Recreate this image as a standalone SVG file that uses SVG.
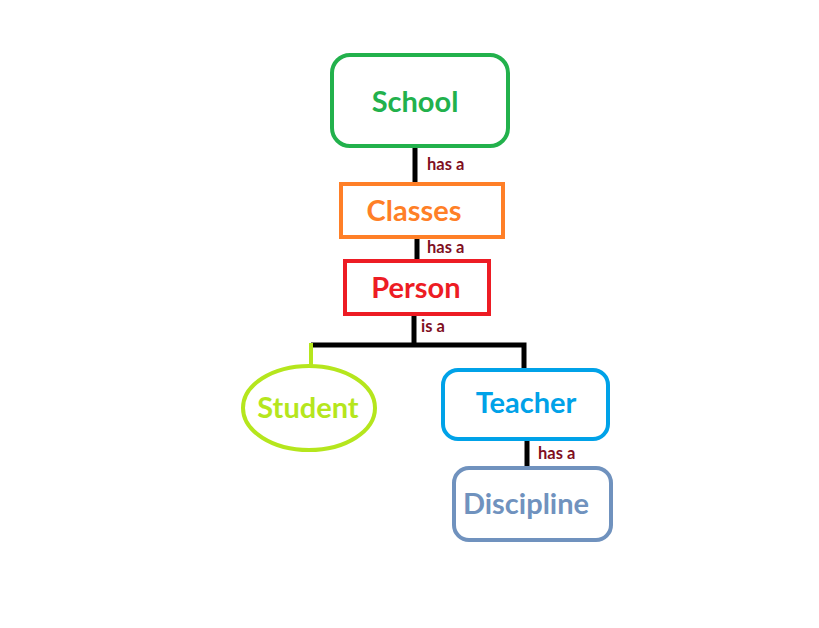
<svg xmlns="http://www.w3.org/2000/svg" width="819" height="628" viewBox="0 0 819 628">
<style>
.box{fill:#fff;stroke-width:4}
.t{font-family:Lato,"Open Sans","Liberation Sans",sans-serif;font-weight:bold;font-size:29px;text-anchor:middle}
.lbl{font-family:Lato,"Open Sans","Liberation Sans",sans-serif;font-weight:bold;font-size:16.5px;fill:#7f0f1f}
.c{stroke:#000;stroke-width:5;fill:none}
</style>
<rect width="819" height="628" fill="#fff"/>
<g id="connectors">
<line class="c" x1="415" y1="146" x2="415" y2="184"/>
<line class="c" x1="417" y1="237" x2="417" y2="261"/>
<line class="c" x1="414" y1="314" x2="414" y2="343"/>
<polyline class="c" points="311,345 524,345 524,369"/>
<line x1="311" y1="343" x2="311" y2="366" stroke="#b5e61d" stroke-width="4"/>
<line class="c" x1="527" y1="439" x2="527" y2="467"/>
<text class="lbl" x="427" y="170">has a</text>
<text class="lbl" x="427" y="253">has a</text>
<text class="lbl" x="421" y="332">is a</text>
<text class="lbl" x="538" y="459">has a</text>
</g>
<g id="school">
<rect class="box" x="332" y="55" width="176" height="91" rx="18" stroke="#22b14c"/>
<text class="t" x="415" y="112" fill="#22b14c">School</text>
</g>
<g id="classes">
<rect class="box" x="341" y="184" width="162" height="53" stroke="#ff7f27"/>
<text class="t" x="414" y="221" fill="#ff7f27">Classes</text>
</g>
<g id="person">
<rect class="box" x="345" y="261" width="144" height="53" stroke="#ed1c24"/>
<text class="t" x="416" y="298" fill="#ed1c24">Person</text>
</g>
<g id="student">
<ellipse class="box" cx="309" cy="408" rx="66" ry="42" stroke="#b5e61d"/>
<text class="t" x="308" y="418" fill="#b5e61d">Student</text>
</g>
<g id="teacher">
<rect class="box" x="443" y="370" width="165" height="69" rx="15" stroke="#00a2e8"/>
<text class="t" x="526" y="413" fill="#00a2e8">Teacher</text>
</g>
<g id="discipline">
<rect class="box" x="454" y="468" width="157" height="72" rx="15" stroke="#7092be"/>
<text class="t" x="526" y="514" fill="#7092be">Discipline</text>
</g>
</svg>
